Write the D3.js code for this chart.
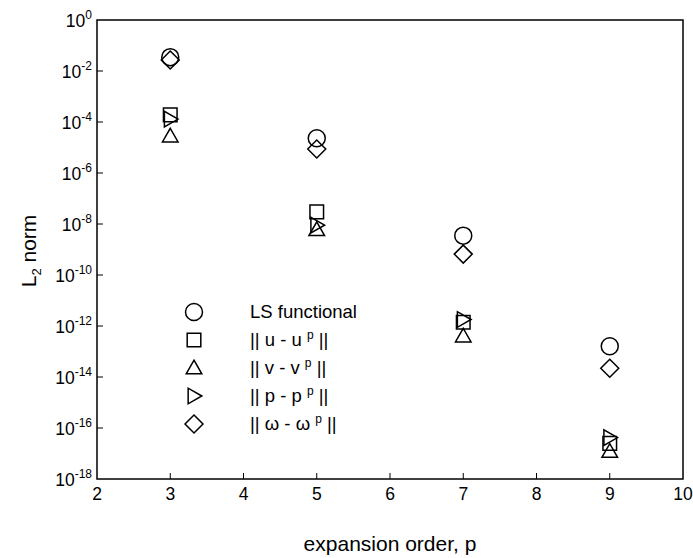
<!DOCTYPE html>
<html>
<head>
<meta charset="utf-8">
<script src="https://cdn.jsdelivr.net/npm/d3@7"></script>
<style>
  html, body { margin: 0; padding: 0; background: #fff; }
  svg { display: block; font-family: "Liberation Sans", Arial, Helvetica, sans-serif; }
  text { fill: #000; }
</style>
</head>
<body>
<svg id="chart" width="693" height="558"></svg>
<script>
// Expansion orders and error norms of each quantity
const orders = [3, 5, 7, 9];
const lsFunctional = [3.5e-2, 2.3e-5, 3.5e-9, 1.6e-13];
const errU = [1.9e-4, 3.0e-8, 1.4e-12, 2.5e-17];
const errV = [2.8e-5, 6.0e-9, 4.0e-13, 1.2e-17];
const errP = [1.3e-4, 9.0e-9, 1.8e-12, 4.2e-17];
const errOmega = [2.7e-2, 8.7e-6, 6.6e-10, 2.2e-14];

const xTicks = [2, 3, 4, 5, 6, 7, 8, 9, 10];
const yExponents = [0, -2, -4, -6, -8, -10, -12, -14, -16, -18];

const series = [
  { name: "LS functional", values: lsFunctional, shape: "circle" },
  { name: "u", values: errU, shape: "square" },
  { name: "v", values: errV, shape: "triangleUp" },
  { name: "p", values: errP, shape: "triangleRight" },
  { name: "ω", values: errOmega, shape: "diamond" }
];

const svg = d3.select("#chart");
const plotLeft = 97, plotRight = 683, plotTop = 20, plotBottom = 479;

const x = d3.scaleLinear().domain([2, 10]).range([plotLeft, plotRight]);
const y = d3.scaleLog().domain([1e-18, 1]).range([plotBottom, plotTop]);

// marker path generators, centred on (0,0)
function markerPath(shape) {
  switch (shape) {
    case "circle": {
      const r = 8.5;
      return `M${r},0A${r},${r} 0 1,1 ${-r},0A${r},${r} 0 1,1 ${r},0Z`;
    }
    case "square": {
      const h = 6.8;
      return `M${-h},${-h}H${h}V${h}H${-h}Z`;
    }
    case "triangleUp": {
      const s = 7.8;
      return `M0,${-s}L${s},${s * 0.75}L${-s},${s * 0.75}Z`;
    }
    case "triangleRight": {
      const s = 7.8;
      return `M${s},0L${-s * 0.75},${-s}L${-s * 0.75},${s}Z`;
    }
    case "diamond": {
      const d = 9;
      return `M0,${-d}L${d},0L0,${d}L${-d},0Z`;
    }
  }
}

// frame
svg.append("rect")
  .attr("x", plotLeft).attr("y", plotTop)
  .attr("width", plotRight - plotLeft).attr("height", plotBottom - plotTop)
  .attr("fill", "none").attr("stroke", "#000").attr("stroke-width", 1.5);

// x ticks (inside) and labels
const gx = svg.append("g");
gx.selectAll("line").data(xTicks.slice(1, -1)).join("line")
  .attr("x1", d => x(d)).attr("x2", d => x(d))
  .attr("y1", plotBottom).attr("y2", plotBottom - 6)
  .attr("stroke", "#000").attr("stroke-width", 1);
gx.selectAll("text").data(xTicks).join("text")
  .attr("x", d => x(d)).attr("y", plotBottom + 21)
  .attr("text-anchor", "middle")
  .attr("font-size", 17.5)
  .text(d => d);

// y ticks (inside) and labels with superscript exponents
const gy = svg.append("g");
gy.selectAll("line").data(yExponents.slice(1, -1)).join("line")
  .attr("x1", plotLeft).attr("x2", plotLeft + 6)
  .attr("y1", d => y(Math.pow(10, d))).attr("y2", d => y(Math.pow(10, d)))
  .attr("stroke", "#000").attr("stroke-width", 1);
const yl = gy.selectAll("text").data(yExponents).join("text")
  .attr("x", 92).attr("y", d => y(Math.pow(10, d)) + 7)
  .attr("text-anchor", "end")
  .attr("font-size", 17.5);
yl.append("tspan").text("10");
yl.append("tspan").attr("dy", -8).attr("font-size", 12).text(d => d);

// axis titles
svg.append("text")
  .attr("x", 390).attr("y", 551)
  .attr("text-anchor", "middle").attr("font-size", 21)
  .text("expansion order, p");

const yt = svg.append("text")
  .attr("transform", `translate(36,251) rotate(-90)`)
  .attr("text-anchor", "middle").attr("font-size", 21);
yt.append("tspan").text("L");
yt.append("tspan").attr("font-size", 13).attr("dy", 5).text("2");
yt.append("tspan").attr("dy", -5).text(" norm");

// data markers
series.forEach(s => {
  svg.append("g").selectAll("path")
    .data(s.values.map((v, i) => ({ order: orders[i], value: v })))
    .join("path")
    .attr("transform", d => `translate(${x(d.order)},${y(d.value)})`)
    .attr("d", markerPath(s.shape))
    .attr("fill", "none")
    .attr("stroke", "#000")
    .attr("stroke-width", 1.5);
});

// legend
const legendRows = [
  { shape: "circle", parts: [["LS functional", 0]] },
  { shape: "square", parts: [["|| u - u ", 0], ["p", 1], [" ||", 0]] },
  { shape: "triangleUp", parts: [["|| v - v ", 0], ["p", 1], [" ||", 0]] },
  { shape: "triangleRight", parts: [["|| p - p ", 0], ["p", 1], [" ||", 0]] },
  { shape: "diamond", parts: [["|| ω - ω ", 0], ["p", 1], [" ||", 0]] }
];
const legend = svg.append("g");
legendRows.forEach((row, i) => {
  const cy = 312 + i * 28;
  legend.append("path")
    .attr("transform", `translate(194,${cy})`)
    .attr("d", markerPath(row.shape))
    .attr("fill", "none").attr("stroke", "#000").attr("stroke-width", 1.5);
  const t = legend.append("text")
    .attr("x", 250).attr("y", cy + 6)
    .attr("font-size", 18.5);
  let raised = false;
  row.parts.forEach(([str, sup]) => {
    const ts = t.append("tspan").text(str);
    if (sup && !raised) { ts.attr("dy", -7).attr("font-size", 12); raised = true; }
    else if (!sup && raised) { ts.attr("dy", 7); raised = false; }
  });
});
</script>
</body>
</html>
